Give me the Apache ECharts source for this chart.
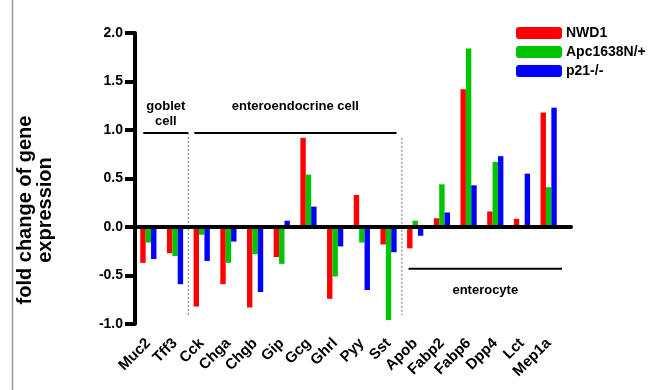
<!DOCTYPE html>
<html>
<head>
<meta charset="utf-8">
<script src="https://cdn.jsdelivr.net/npm/echarts@6/dist/echarts.min.js"></script>
<style>html,body{margin:0;padding:0;background:#fff;}#c{width:653px;height:390px;}</style>
</head>
<body>
<div id="c"></div>
<script>
const categories = ['Muc2','Tff3','Cck','Chga','Chgb','Gip','Gcg','Ghrl','Pyy','Sst','Apob','Fabp2','Fabp6','Dpp4','Lct','Mep1a'];
const nwd1 = [-0.37,-0.27,-0.82,-0.59,-0.83,-0.31,0.92,-0.74,0.33,-0.18,-0.22,0.09,1.42,0.16,0.085,1.18];
const apc  = [-0.16,-0.30,-0.08,-0.37,-0.28,-0.38,0.54,-0.51,-0.16,-0.96,0.065,0.44,1.84,0.67,-0.02,0.41];
const p21  = [-0.33,-0.59,-0.35,-0.15,-0.67,0.065,0.21,-0.20,-0.65,-0.26,-0.09,0.15,0.43,0.73,0.55,1.23];
const seriesNames = ['NWD1','Apc1638N/+','p21-/-'];
const colors = ['#ff0000','#00c400','#0000ff'];
const yTicks = {min:-1, max:2, interval:0.5};

const FONT = 'Liberation Sans, Arial, sans-serif';
const chart = echarts.init(document.getElementById('c'));
const data = [nwd1, apc, p21];
chart.setOption({
  animation:false,
  backgroundColor:'#fff',
  grid:{left:135, top:33, right:91, bottom:66},
  legend:{
    orient:'vertical', left:516, top:26, padding:0, itemWidth:46, itemHeight:12, itemGap:5,
    icon:'roundRect',
    textStyle:{fontFamily:FONT, fontWeight:'bold', fontSize:14, color:'#000', padding:[0,0,0,-1]},
    data:seriesNames
  },
  xAxis:{
    type:'category', data:categories,
    axisLine:{show:false, onZero:false}, axisTick:{show:false},
    axisLabel:{rotate:45, margin:17, interval:0, fontFamily:FONT, fontWeight:'bold', fontSize:15, color:'#000'}
  },
  yAxis:{
    type:'value', min:yTicks.min, max:yTicks.max, interval:yTicks.interval,
    splitLine:{show:false},
    axisLine:{show:true, lineStyle:{color:'#000', width:4}},
    axisTick:{show:true, length:10, lineStyle:{color:'#000', width:4}},
    axisLabel:{margin:12, fontFamily:FONT, fontWeight:'bold', fontSize:14, color:'#000', formatter:v=>v.toFixed(1)}
  },
  series: seriesNames.map((n,i)=>({
    name:n, type:'bar', data:data[i], barWidth:5.4, barGap:'0%',
    itemStyle:{color:colors[i]}
  }))
});

// decorations derived from axes
const cx = i => chart.convertToPixel({xAxisIndex:0}, categories[i]);
const py = v => chart.convertToPixel({yAxisIndex:0}, v);
const d = cx(1) - cx(0);
const bound = i => cx(i) - d/2;
const y0 = py(0);
const g = [];
g.push({type:'line', shape:{x1:12.5,y1:0,x2:12.5,y2:390}, style:{stroke:'#9a9a9a', lineWidth:1.5}, silent:true});
g.push({type:'rect', shape:{x:bound(0)-1, y:y0-2, width:(bound(15)+d) - bound(0) + 12, height:4, r:2}, style:{fill:'#000'}, z:10});
g.push({type:'line', shape:{x1:cx(0)-0.19*d, y1:py(0.97), x2:bound(2), y2:py(0.97)}, style:{stroke:'#000', lineWidth:2}});
g.push({type:'text', x:(cx(0)-0.19*d+bound(2))/2, y:py(1.32), style:{text:'goblet\ncell', font:'bold 13px '+FONT, fill:'#000', align:'center', verticalAlign:'top', lineHeight:15}});
g.push({type:'line', shape:{x1:bound(2)+0.22*d, y1:py(0.97), x2:bound(10)-0.2*d, y2:py(0.97)}, style:{stroke:'#000', lineWidth:2}});
g.push({type:'text', x:(bound(2)+0.22*d+bound(10)-0.2*d)/2, y:py(1.24), style:{text:'enteroendocrine cell', font:'bold 13px '+FONT, fill:'#000', align:'center', verticalAlign:'middle'}});
g.push({type:'line', shape:{x1:bound(10)+0.25*d, y1:py(-0.43), x2:bound(15)+d, y2:py(-0.43)}, style:{stroke:'#000', lineWidth:2}});
g.push({type:'text', x:(bound(10)+0.25*d+bound(15)+d)/2, y:py(-0.65), style:{text:'enterocyte', font:'bold 13px '+FONT, fill:'#000', align:'center', verticalAlign:'middle'}});
g.push({type:'line', shape:{x1:bound(2), y1:py(0.97), x2:bound(2), y2:py(-0.91)}, style:{stroke:'#888', lineWidth:1.2, lineDash:[2,2]}});
g.push({type:'line', shape:{x1:bound(10), y1:py(0.92), x2:bound(10), y2:py(-0.91)}, style:{stroke:'#888', lineWidth:1.2, lineDash:[2,2]}});
g.push({type:'text', x:35, y:210, rotation:Math.PI/2, style:{text:'fold change of gene\nexpression', font:'bold 20px '+FONT, fill:'#000', align:'center', verticalAlign:'middle', lineHeight:20}});
chart.setOption({graphic:g});
</script>
</body>
</html>
